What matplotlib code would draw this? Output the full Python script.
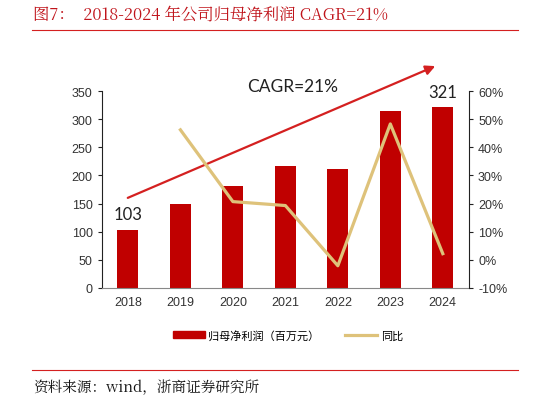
import matplotlib.pyplot as plt
import numpy as np
from matplotlib.lines import Line2D
from matplotlib.patches import Patch

plt.rcParams['font.family'] = ['Liberation Sans', 'Noto Sans CJK SC', 'DejaVu Sans']

years = ["2018", "2019", "2020", "2021", "2022", "2023", "2024"]
profit = [103, 150, 181, 216, 212, 314, 321]          # 归母净利润（百万元）
yoy_years = ["2019", "2020", "2021", "2022", "2023", "2024"]
yoy = [46.2, 20.7, 19.3, -2.1, 48.3, 2.2]              # 同比, %

bar_color = "#C00000"
line_color = "#DEC27A"
text_red = "#C0141B"

fig = plt.figure(figsize=(5.48, 4.02), dpi=100)
ax = fig.add_axes([0.1856, 0.2811, 0.6703, 0.49])
ax2 = ax.twinx()

X = np.arange(len(years))
ax.bar(X, profit, 0.4, color=bar_color, zorder=2)
ax.set_xlim(-0.5, len(years) - 0.5)
ax.set_ylim(0, 350)
ax.set_yticks(range(0, 351, 50))
ax.set_xticks(X)
ax.set_xticklabels(years)

x_yoy = [years.index(y) for y in yoy_years]
ax2.plot(x_yoy, yoy, color=line_color, lw=2.3, zorder=3)
ax2.set_ylim(-10, 60)
ax2.set_yticks(range(-10, 61, 10))
ax2.set_yticklabels([f"{v}%" for v in range(-10, 61, 10)])

for a in (ax, ax2):
    a.spines["top"].set_visible(False)
    a.tick_params(labelsize=9, colors="#333333", length=3, width=0.8)
    a.patch.set_visible(False)
ax.spines["right"].set_visible(False)
ax2.spines["left"].set_visible(False)
ax.spines["left"].set_color("#222222")
ax2.spines["right"].set_color("#222222")
ax.spines["bottom"].set_color("#888888")
ax2.spines["bottom"].set_visible(False)
ax.tick_params(axis="x", length=0, pad=6)
ax.tick_params(axis="y", colors="#222222", labelcolor="#333333")
ax2.tick_params(axis="y", colors="#222222", labelcolor="#333333")

# end labels
ax.text(0, 131, str(profit[0]), ha="center", va="center",
        fontsize=12, family="Lato", color="#222222")
ax.text(len(years) - 1, 349, str(profit[-1]), ha="center", va="center",
        fontsize=12, family="Lato", color="#222222")

# CAGR arrow
ax.annotate("", xy=(0.915, 1.132), xytext=(0.064, 0.452),
            xycoords="axes fraction", textcoords="axes fraction",
            annotation_clip=False,
            arrowprops=dict(arrowstyle="-|>", color="#D42020", lw=1.6,
                            mutation_scale=14))
ax.text(0.52, 1.025, "CAGR=21%", transform=ax.transAxes, ha="center",
        va="center", fontsize=12.5, family="Lato", color="#222222")

# title & source
fig.text(33 / 548, 1 - 15 / 402, "图7：  2018-2024 年公司归母净利润 CAGR=21%",
         fontsize=11.8, color=text_red, va="center", ha="left",
         family=["Noto Serif CJK SC", "Noto Sans CJK SC"])
fig.add_artist(Line2D([32 / 548, 518 / 548], [1 - 31 / 402, 1 - 31 / 402],
                      color="#D42020", lw=0.8))
fig.add_artist(Line2D([32 / 548, 518 / 548], [1 - 371 / 402, 1 - 371 / 402],
                      color="#D42020", lw=0.8))
fig.text(33 / 548, 1 - 388 / 402, "资料来源：wind，浙商证券研究所",
         fontsize=10.5, color="#111111", va="center", ha="left",
         family=["Noto Serif CJK SC", "Noto Sans CJK SC"])

handles = [Patch(color=bar_color), Line2D([], [], color=line_color, lw=2.3)]
fig.legend(handles, ["归母净利润（百万元）", "同比"], loc="center",
           bbox_to_anchor=(0.525, 1 - 336 / 402), ncol=2, frameon=False,
           prop={"family": "Noto Sans CJK SC", "size": 8},
           handlelength=2.9, handleheight=0.55, columnspacing=2.3,
           handletextpad=0.3)

fig.savefig("out.png", dpi=100)
